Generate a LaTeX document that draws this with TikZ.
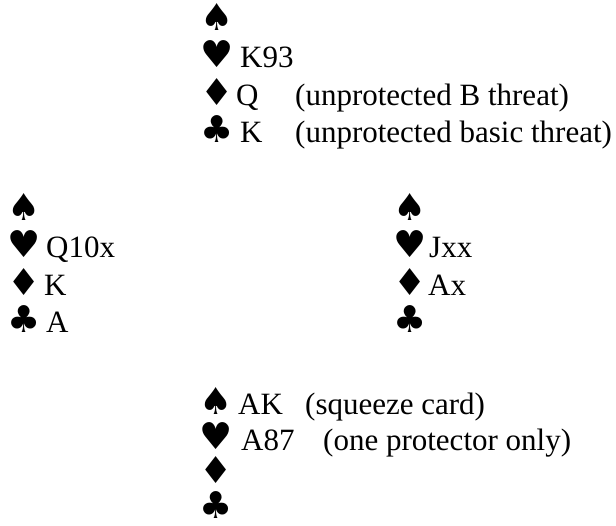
\documentclass[tikz,border=0pt]{standalone}
\usepackage{fontspec}
\setmainfont{Liberation Serif}
\newfontfamily\suitfont{DejaVu Sans}

\begin{document}
\begin{tikzpicture}[
    x=1pt, y=-1pt,
    suitsym/.style={anchor=base west, inner sep=0pt, font=\suitfont\fontsize{37}{37}\selectfont},
    cards/.style={anchor=base west, inner sep=0pt, font=\fontsize{31}{37}\selectfont},
    remark/.style={anchor=base west, inner sep=0pt, font=\fontsize{31}{37}\selectfont}
]
\useasboundingbox (0,0) rectangle (616,525);

% ================================================================
% NORTH
% ================================================================
\foreach \s [count=\i] in {♠,♥,♦,♣} {
    \node[suitsym] (n\i) at (200, -7.5+37.5*\i) {\s};
}
\node[cards] (nH) at (240, 67.5)  {K93};
\node[cards] (nD) at (236, 105)   {Q};
\node[cards] (nC) at (240, 142.5) {K};
\node[remark] (nDr) at (295, 105)   {(unprotected B threat)};
\node[remark] (nCr) at (295, 142.5) {(unprotected basic threat)};

% ================================================================
% WEST
% ================================================================
\foreach \s [count=\i] in {♠,♥,♦,♣} {
    \node[suitsym] (w\i) at (7, 182.5+37.5*\i) {\s};
}
\node[cards] (wH) at (46, 257.5) {Q10x};
\node[cards] (wD) at (44, 295)   {K};
\node[cards] (wC) at (46, 332.5) {A};

% ================================================================
% EAST
% ================================================================
\foreach \s [count=\i] in {♠,♥,♦,♣} {
    \node[suitsym] (e\i) at (393, 182.5+37.5*\i) {\s};
}
\node[cards] (eH) at (429, 257.5) {Jxx};
\node[cards] (eD) at (428, 295)   {Ax};

% ================================================================
% SOUTH
% ================================================================
\foreach \s [count=\i] in {♠,♥,♦,♣} {
    \node[suitsym] (s\i) at (199, 380+34.5*\i) {\s};
}
\node[cards] (sS) at (238, 414.5) {AK};
\node[cards] (sH) at (241, 450.5) {A87};
\node[remark] (sSr) at (305, 414.5) {(squeeze card)};
\node[remark] (sHr) at (323, 450.5) {(one protector only)};

\end{tikzpicture}
\end{document}
